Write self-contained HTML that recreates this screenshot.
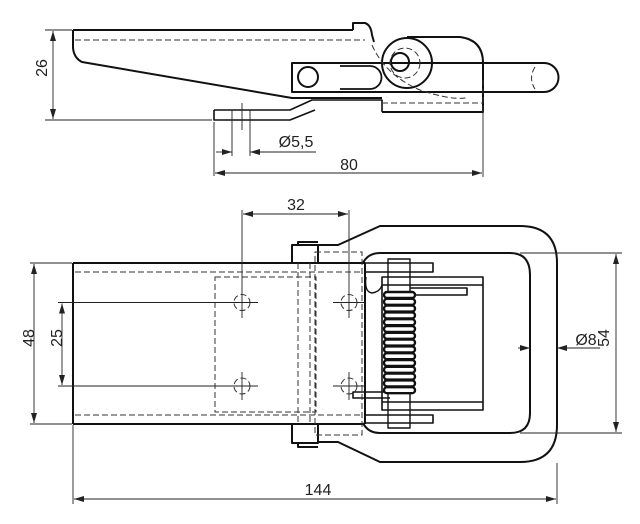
<!DOCTYPE html>
<html><head><meta charset="utf-8"><style>
html,body{margin:0;padding:0;background:#fff;}
svg{display:block;}
text{font-family:"Liberation Sans",sans-serif;font-size:16px;fill:#222;}
</style></head><body>
<svg width="640" height="524" viewBox="0 0 640 524" xmlns="http://www.w3.org/2000/svg">
<defs>
<marker id="a" viewBox="0 0 10 6" refX="10" refY="3" markerWidth="10" markerHeight="6" orient="auto-start-reverse" markerUnits="userSpaceOnUse"><path d="M0,0 L10,3 L0,6 z" fill="#222"/></marker>
</defs>
<g fill="none" stroke="#111" stroke-width="2" stroke-linejoin="round">
<path d="M73,30 L353,30 M73,30 L73,48 Q74,58 82,62 L292,98 L382,98"/>
<path d="M353,30 L353,23 L365,23 Q371,25 372,35 L374,42"/>
<path d="M407,37 L460,37 Q483,40 483,63 L483,112 L382,112"/>
<circle cx="407" cy="63" r="25"/>
<circle cx="400" cy="62" r="9"/>
<path d="M292,63 L544,63 A14.5,14.5 0 0 1 544,92 L292,92 Z"/>
<path d="M340,66 L370,66 A11,11 0 0 1 370,89 L340,89" stroke-width="1.8"/>
<circle cx="308" cy="77" r="10"/>
<path d="M214,110 L290,110 L312,100 L382,100 L382,112 M214,110 L214,120 L290,120 L315,110" stroke-width="1.6"/>
</g>
<g fill="none" stroke="#333" stroke-width="1" stroke-dasharray="6,3">
<path d="M75,40 L365,40"/>
<circle cx="405" cy="63" r="15"/>
<path d="M372,45 Q385,75 420,90 Q450,100 465,98 L465,100"/>
<path d="M382,103 L483,103"/>
<path d="M535,67 Q528,78 535,89"/>
<path d="M483,112 L483,80"/>
</g>
<g fill="none" stroke="#222" stroke-width="0.9">
<path d="M45,30 L72,30 M45,120 L212,120"/>
<path d="M53,31 L53,119" marker-start="url(#a)" marker-end="url(#a)"/>
<path d="M214,122 L214,176 M232,110 L232,156 M250,110 L250,156 M242,103 L242,130"/>
<path d="M216,152 L232,152" marker-end="url(#a)"/>
<path d="M316,152 L250,152" marker-end="url(#a)"/>
<path d="M483,113 L483,177"/>
<path d="M215,173 L482,173" marker-start="url(#a)" marker-end="url(#a)"/>
</g>
<text x="55" y="76" text-anchor="middle" transform="rotate(-90 47 76)">26</text>
<text x="296" y="147" text-anchor="middle">Ø5,5</text>
<text x="349" y="170" text-anchor="middle">80</text>

<g fill="none" stroke="#111" stroke-width="2" stroke-linejoin="round">
<path d="M73,263 L365,263 M73,424 L365,424 M73,263 L73,424"/>
<path d="M365,263 L365,424"/>
<path d="M292,263 L292,245 L318,245 L318,263 M298,245 L298,242 L318,242"/>
<path d="M292,424 L292,443 L318,443 L318,424 M298,443 L298,447 L318,447"/>
<path d="M318,245 L338,245 L380,226 L520,226 Q557,226 557,263 L557,425 Q557,462 520,462 L380,462 L338,442 L318,442"/>
<path d="M363,263 Q368,253 380,253 L510,253 Q530,253 530,275 L530,413 Q530,433 510,433 L380,433 Q368,433 363,423"/>
<path d="M365,263 L433,263 L433,272 L365,272 M365,415 L433,415 L433,423 L365,423" stroke-width="1.6"/>
<path d="M382,277 L483,277 L483,410 L382,410 Z M382,285 L483,285 M382,402 L483,402" stroke-width="1.6"/>
<path d="M410,288 L467,288 L467,295 L410,295" stroke-width="1.6"/>
<path d="M390,392 L353,392 L353,398 L390,398" stroke-width="1.6"/>
<path d="M388,259 L410,259 L410,428 L388,428 Z" stroke-width="1.4"/>
<path d="M366,277 Q364,292 372,293 Q380,292 382,285" stroke-width="1.4"/>
</g>
<g fill="#fff" stroke="#111" stroke-width="2.4">
<rect x="384" y="292" width="31" height="6" rx="3"/>
<rect x="384" y="298.8" width="31" height="6" rx="3"/>
<rect x="384" y="305.6" width="31" height="6" rx="3"/>
<rect x="384" y="312.4" width="31" height="6" rx="3"/>
<rect x="384" y="319.2" width="31" height="6" rx="3"/>
<rect x="384" y="326" width="31" height="6" rx="3"/>
<rect x="384" y="332.8" width="31" height="6" rx="3"/>
<rect x="384" y="339.6" width="31" height="6" rx="3"/>
<rect x="384" y="346.4" width="31" height="6" rx="3"/>
<rect x="384" y="353.2" width="31" height="6" rx="3"/>
<rect x="384" y="360" width="31" height="6" rx="3"/>
<rect x="384" y="366.8" width="31" height="6" rx="3"/>
<rect x="384" y="373.6" width="31" height="6" rx="3"/>
<rect x="384" y="380.4" width="31" height="6" rx="3"/>
<rect x="384" y="387.2" width="31" height="6" rx="3"/>
</g>
<g fill="none" stroke="#333" stroke-width="1" stroke-dasharray="6,3">
<path d="M75,272 L363,272 M75,415 L363,415"/>
<rect x="215" y="277" width="101" height="135"/>
<rect x="315" y="252" width="47" height="183"/>
<path d="M298,263 L298,424 M310,263 L310,424"/>
<circle cx="242" cy="302.5" r="8"/><circle cx="349" cy="302.5" r="8"/>
<circle cx="242" cy="386" r="8"/><circle cx="349" cy="386" r="8"/>
</g>
<g fill="none" stroke="#222" stroke-width="0.9">
<path d="M226,302.5 L258,302.5 M242,290 L242,318 M333,302.5 L365,302.5 M349,290 L349,318 M226,386 L258,386 M242,372 L242,400 M333,386 L365,386 M349,372 L349,400"/>
<path d="M30,263 L72,263 M30,424 L72,424"/>
<path d="M34,264 L34,423" marker-start="url(#a)" marker-end="url(#a)"/>
<path d="M58,302.5 L226,302.5 M58,386 L226,386"/>
<path d="M62,303.5 L62,385" marker-start="url(#a)" marker-end="url(#a)"/>
<path d="M242,210 L242,290 M349,210 L349,290"/>
<path d="M243,214 L348,214" marker-start="url(#a)" marker-end="url(#a)"/>
<path d="M73,425 L73,504 M557,463 L557,504"/>
<path d="M74,499 L556,499" marker-start="url(#a)" marker-end="url(#a)"/>
<path d="M520,253 L622,253 M520,433 L622,433"/>
<path d="M616,254 L616,432" marker-start="url(#a)" marker-end="url(#a)"/>
<path d="M518,348 L530,348" marker-end="url(#a)"/>
<path d="M600,348 L557,348" marker-end="url(#a)"/>
</g>
<text x="34" y="348" text-anchor="middle" transform="rotate(-90 29 343)">48</text>
<text x="62" y="348" text-anchor="middle" transform="rotate(-90 57 343)">25</text>
<text x="296" y="210" text-anchor="middle">32</text>
<text x="318" y="495" text-anchor="middle">144</text>
<text x="586" y="345" text-anchor="middle">Ø8</text>
<text x="609" y="348" text-anchor="middle" transform="rotate(-90 604 343)">54</text>
</svg>
</body></html>
